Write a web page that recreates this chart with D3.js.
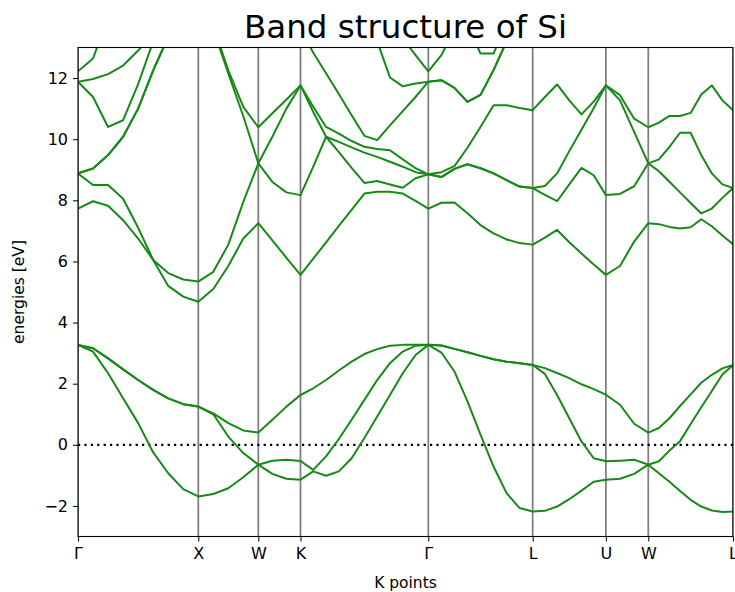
<!DOCTYPE html>
<html><head><meta charset="utf-8">
<script src="https://cdn.jsdelivr.net/npm/d3@7"></script>
<style>
body{margin:0;background:#fff;}
svg{display:block;}
text{font-family:"DejaVu Sans",sans-serif;}
</style>
</head><body>
<svg id="chart" width="735" height="592"></svg>
<script>
// ---- data ----
const titleText = "Band structure of Si";
const xLabel = "K points";
const yLabel = "energies [eV]";
const kLabels = ["Γ","X","W","K","Γ","L","U","W","L"];
const kTicks  = [0, 1.004, 1.505, 1.857, 2.924, 3.795, 4.406, 4.760, 5.467];
const segN    = [8, 4, 3, 10, 8, 6, 3, 8];   // k samples per path segment
const yTicks  = [-2, 0, 2, 4, 6, 8, 10, 12];
const yDomain = [-3, 13];
const fermiLevel = 0;

// valence bands
const band2 = [3.27,3.05,2.34,1.52,0.71,-0.25,-0.93,-1.45,-1.69, -1.61,-1.42,-1.06,-0.65, -0.95,-1.11,-1.14,
  -0.87,-1.01,-0.87,-0.44,0.22,0.93,1.63,2.34,2.94,3.27, 3.02,2.40,1.42,0.33,-0.71,-1.58,-2.07,-2.18,
  -2.16,-2.02,-1.78,-1.50,-1.21,-1.14, -1.11,-0.95,-0.65, -0.93,-1.21,-1.51,-1.80,-2.02,-2.15,-2.20,-2.18];
const band3 = [3.27,3.16,2.83,2.47,2.12,1.80,1.52,1.33,1.25, 1.00,0.27,-0.27,-0.65, -0.52,-0.49,-0.53,
  -0.82,-0.38,0.19,0.82,1.47,2.12,2.67,3.05,3.24,3.27, 3.25,3.14,3.03,2.91,2.80,2.72,2.67,2.61,
  2.32,1.63,0.87,0.11,-0.44,-0.54, -0.52,-0.49,-0.65, -0.54,-0.19,0.12,0.68,1.23,1.76,2.30,2.61];
const band4 = [3.27,3.16,2.83,2.47,2.12,1.80,1.52,1.33,1.25, 1.03,0.71,0.47,0.40, 0.82,1.25,1.63,
  1.85,2.12,2.43,2.72,2.97,3.13,3.24,3.27,3.27,3.27, 3.25,3.14,3.03,2.91,2.80,2.72,2.67,2.61,
  2.51,2.35,2.18,1.98,1.82,1.64, 1.31,0.69,0.40, 0.55,0.87,1.27,1.65,2.03,2.29,2.50,2.61];
// conduction bands
const band5 = [7.73,7.97,7.82,7.35,6.75,6.05,5.20,4.85,4.68, 5.10,5.85,6.75,7.25, 6.69,6.12,5.56,
  6.09,6.62,7.16,7.69,8.22,8.28,8.28,8.22,7.98,7.73, 7.92,7.93,7.58,7.19,6.92,6.72,6.60,6.55,
  6.78,7.03,6.63,6.26,5.90,5.56, 5.85,6.65,7.25, 7.22,7.13,7.08,7.12,7.38,7.15,6.85,6.56];
const band6 = [8.88,8.50,8.50,8.05,7.10,6.05,5.62,5.41,5.34, 5.66,6.55,7.95,9.21, 8.60,8.26,8.17,
  9.10,10.08,9.58,9.06,8.57,8.63,8.52,8.41,8.72,8.85, 8.76,9.03,9.18,9.05,8.88,8.66,8.45,8.40,
  8.18,7.97,8.52,9.06,8.82,8.17, 8.21,8.46,9.21, 8.95,8.61,8.26,7.91,7.57,7.73,8.08,8.40];
const band7 = [8.88,9.04,9.48,10.08,11.00,12.25,13.35,14.30,14.80, 13.60,12.15,10.75,9.21, 10.08,11.00,11.76,
  10.89,10.08,9.91,9.73,9.56,9.42,9.26,9.10,8.92,8.85, 8.76,9.03,9.18,9.05,8.88,8.66,8.45,8.40,
  8.47,8.88,9.61,10.31,11.01,11.76, 11.27,10.24,9.21, 9.34,9.75,10.21,10.21,9.48,8.88,8.52,8.40];
const band8 = [8.88,9.04,9.48,10.08,11.00,12.25,13.35,14.50,15.00, 13.70,12.25,11.06,10.39, 10.85,11.30,11.76,
  11.06,10.40,10.18,9.94,9.75,9.68,9.64,9.34,9.05,8.85, 8.92,9.12,9.72,10.40,11.11,11.11,11.02,10.95,
  11.38,11.79,11.27,10.81,11.23,11.76, 11.44,10.67,10.39, 10.54,10.76,10.76,10.86,11.46,11.76,11.27,10.95];
const band9 = [11.88,11.38,10.40,10.62,11.80,13.20,14.40,14.80,15.30, 15.5,15.5,15.5,15.5, 15.0,14.5,13.6,
  12.83,12.16,11.48,10.78,10.11,9.97,10.45,10.92,11.38,11.88, 11.93,11.68,11.22,11.45,12.26,13.20,14.00,14.50,
  14.5,14.5,14.5,14.5,14.5,14.5, 14.5,14.5,14.5, 14.5,14.5,14.5,14.5,14.5,14.5,14.5,14.5];
const band10 = [11.88,11.97,12.13,12.41,12.90,13.45,14.60,15.00,15.50, 16,16,16,16, 15.8,15.5,14.5,
  14.2,14.0,13.9,13.8,13.6,13.2,12.02,11.73,11.82,11.88, 11.93,11.68,11.22,11.45,12.26,13.20,14.00,14.80,
  15,15,15,15,15,15, 15,15,15, 15,15,15,15,15,15,15,15];
const band11 = [12.22,12.64,14.00,15.00,15.50,16.00,16.50,17,17, 17,17,17,17, 16.8,16.5,15.5,
  15.3,15.0,14.8,14.6,14.4,14.2,14.0,13.3,12.75,12.22, 12.75,13.6,13.8,12.8,12.8,13.8,14.5,15.2,
  15.5,15.5,15.5,15.5,15.5,15.5, 15.5,15.5,15.5, 15.5,15.5,15.5,15.5,15.5,15.5,15.5,15.5];

const bands = [band2, band3, band4, band5, band6, band7, band8, band9, band10, band11];

// k sample positions along the path (evenly subdivided segments)
const kGrid = [];
segN.forEach((n, s) => {
  for (let j = 0; j < n; j++) kGrid.push(kTicks[s] + (j / n) * (kTicks[s + 1] - kTicks[s]));
});
kGrid.push(kTicks[kTicks.length - 1]);

// ---- layout ----
const padL = 78, padR = 733, padT = 47.5, padB = 536.5;
const svg = d3.select("#chart");
svg.append("rect").attr("width", 735).attr("height", 592).attr("fill", "#fff");

const x = d3.scaleLinear().domain([kTicks[0], kTicks[kTicks.length - 1]]).range([padL, padR]);
const y = d3.scaleLinear().domain(yDomain).range([padB, padT]);

svg.append("defs").append("clipPath").attr("id", "clip")
  .append("rect").attr("x", padL).attr("y", padT).attr("width", padR - padL).attr("height", padB - padT);

const plot = svg.append("g").attr("clip-path", "url(#clip)");

// high-symmetry vertical lines
plot.selectAll("line.kv").data(kTicks).enter().append("line")
  .attr("class", "kv")
  .attr("x1", d => x(d)).attr("x2", d => x(d))
  .attr("y1", padT).attr("y2", padB)
  .attr("stroke", "#808080").attr("stroke-width", 1.8);

// Fermi level
plot.append("line")
  .attr("x1", padL).attr("x2", padR)
  .attr("y1", y(fermiLevel)).attr("y2", y(fermiLevel))
  .attr("stroke", "#000").attr("stroke-width", 2.2)
  .attr("stroke-dasharray", "2.2,4.2");

// bands
const bandLine = d3.line().x((d, i) => x(kGrid[i])).y(d => y(d));
plot.selectAll("path.band").data(bands).enter().append("path")
  .attr("class", "band")
  .attr("d", bandLine)
  .attr("fill", "none")
  .attr("stroke", "#168a16")
  .attr("stroke-width", 2)
  .attr("stroke-linejoin", "round");

// axes
const yAxis = svg.append("g").attr("transform", `translate(${padL},0)`)
  .call(d3.axisLeft(y).tickValues(yTicks).tickSize(5).tickPadding(5));
yAxis.select(".domain").remove();
yAxis.selectAll("text").attr("font-size", "16px").attr("fill", "#000").attr("font-family", "DejaVu Sans");
yAxis.selectAll("line").attr("stroke", "#000");

const xAxis = svg.append("g").attr("transform", `translate(0,${padB})`)
  .call(d3.axisBottom(x).tickValues(kTicks).tickFormat((d, i) => kLabels[i]).tickSize(5).tickPadding(6));
xAxis.select(".domain").remove();
xAxis.selectAll("text").attr("font-size", "16px").attr("fill", "#000").attr("font-family", "DejaVu Sans");
xAxis.selectAll("line").attr("stroke", "#000");

// spines
svg.append("rect").attr("x", padL).attr("y", padT).attr("width", padR - padL).attr("height", padB - padT)
  .attr("fill", "none").attr("stroke", "#000").attr("stroke-width", 1.1);

// labels
svg.append("text").attr("x", (padL + padR) / 2).attr("y", 38)
  .attr("text-anchor", "middle").attr("font-size", "32.5px").attr("fill", "#000").text(titleText);
svg.append("text").attr("x", (padL + padR) / 2).attr("y", 588)
  .attr("text-anchor", "middle").attr("font-size", "15.5px").attr("fill", "#000").text(xLabel);
svg.append("text").attr("transform", `translate(24,${(padT + padB) / 2}) rotate(-90)`)
  .attr("text-anchor", "middle").attr("font-size", "15.5px").attr("fill", "#000").text(yLabel);
</script>
</body></html>
